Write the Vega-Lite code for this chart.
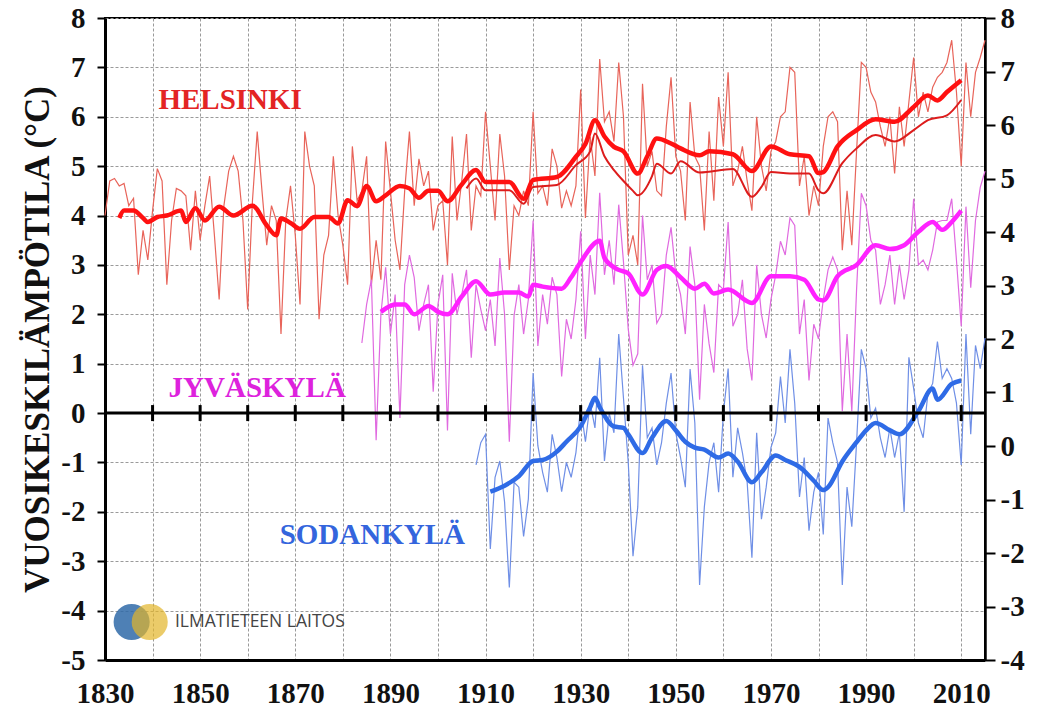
{
"$schema": "https://vega.github.io/schema/vega-lite/v6.json",
"width": 880, "height": 642,
"autosize": {"type": "none"},
"padding": {"left": 105, "top": 18, "right": 56, "bottom": 51},
"background": "white",
"config": {"view": {"stroke": "black", "strokeWidth": 2}, "font": "Liberation Serif"},
"datasets": {
"hel": [
{"year":1830,"t":4.0},{"year":1831,"t":4.7},{"year":1832,"t":4.75},{"year":1833,"t":4.6},{"year":1834,"t":4.65},{"year":1835,"t":4.2},{"year":1836,"t":4.35},{"year":1837,"t":2.8},{"year":1838,"t":3.7},{"year":1839,"t":3.1},
{"year":1840,"t":4.1},{"year":1841,"t":4.95},{"year":1842,"t":4.7},{"year":1843,"t":2.6},{"year":1844,"t":3.9},{"year":1845,"t":4.55},{"year":1846,"t":4.5},{"year":1847,"t":4.4},{"year":1848,"t":3.3},{"year":1849,"t":4.5},
{"year":1850,"t":3.5},{"year":1851,"t":4.2},{"year":1852,"t":4.8},{"year":1853,"t":3.6},{"year":1854,"t":2.3},{"year":1855,"t":4.2},{"year":1856,"t":4.9},{"year":1857,"t":5.2},{"year":1858,"t":4.9},{"year":1859,"t":3.9},
{"year":1860,"t":2.1},{"year":1861,"t":4.3},{"year":1862,"t":5.7},{"year":1863,"t":4.5},{"year":1864,"t":3.4},{"year":1865,"t":4.2},{"year":1866,"t":3.9},{"year":1867,"t":1.6},{"year":1868,"t":3.9},{"year":1869,"t":4.6},
{"year":1870,"t":3.6},{"year":1871,"t":2.2},{"year":1872,"t":5.7},{"year":1873,"t":5.0},{"year":1874,"t":4.6},{"year":1875,"t":1.9},{"year":1876,"t":3.2},{"year":1877,"t":3.6},{"year":1878,"t":5.2},{"year":1879,"t":4.0},
{"year":1880,"t":3.4},{"year":1881,"t":2.6},{"year":1882,"t":5.4},{"year":1883,"t":4.3},{"year":1884,"t":4.5},{"year":1885,"t":5.2},{"year":1886,"t":2.6},{"year":1887,"t":3.5},{"year":1888,"t":2.7},{"year":1889,"t":5.5},
{"year":1890,"t":4.5},{"year":1891,"t":3.5},{"year":1892,"t":2.9},{"year":1893,"t":4.5},{"year":1894,"t":5.7},{"year":1895,"t":4.2},{"year":1896,"t":5.15},{"year":1897,"t":4.6},{"year":1898,"t":4.9},{"year":1899,"t":3.7},
{"year":1900,"t":4.2},{"year":1901,"t":4.3},{"year":1902,"t":3.0},{"year":1903,"t":5.6},{"year":1904,"t":3.9},{"year":1905,"t":4.7},{"year":1906,"t":5.65},{"year":1907,"t":3.7},{"year":1908,"t":4.6},{"year":1909,"t":4.4},
{"year":1910,"t":6.1},{"year":1911,"t":5.0},{"year":1912,"t":3.9},{"year":1913,"t":5.65},{"year":1914,"t":4.8},{"year":1915,"t":2.9},{"year":1916,"t":4.2},{"year":1917,"t":4.0},{"year":1918,"t":4.5},{"year":1919,"t":4.2},
{"year":1920,"t":6.1},{"year":1921,"t":4.45},{"year":1922,"t":4.6},{"year":1923,"t":4.2},{"year":1924,"t":5.35},{"year":1925,"t":5.0},{"year":1926,"t":4.15},{"year":1927,"t":4.5},{"year":1928,"t":4.2},{"year":1929,"t":4.6},
{"year":1930,"t":6.55},{"year":1931,"t":3.95},{"year":1932,"t":5.6},{"year":1933,"t":4.8},{"year":1934,"t":7.17},{"year":1935,"t":5.9},{"year":1936,"t":6.1},{"year":1937,"t":5.5},{"year":1938,"t":7.1},{"year":1939,"t":6.0},
{"year":1940,"t":3.2},{"year":1941,"t":3.6},{"year":1942,"t":3.0},{"year":1943,"t":6.67},{"year":1944,"t":5.0},{"year":1945,"t":5.3},{"year":1946,"t":4.5},{"year":1947,"t":4.4},{"year":1948,"t":5.8},{"year":1949,"t":6.8},
{"year":1950,"t":5.2},{"year":1951,"t":4.9},{"year":1952,"t":3.9},{"year":1953,"t":6.3},{"year":1954,"t":5.2},{"year":1955,"t":5.0},{"year":1956,"t":3.7},{"year":1957,"t":5.7},{"year":1958,"t":4.3},{"year":1959,"t":6.4},
{"year":1960,"t":5.4},{"year":1961,"t":6.9},{"year":1962,"t":4.6},{"year":1963,"t":4.9},{"year":1964,"t":5.4},{"year":1965,"t":4.7},{"year":1966,"t":4.1},{"year":1967,"t":6.0},{"year":1968,"t":5.0},{"year":1969,"t":4.5},
{"year":1970,"t":5.3},{"year":1971,"t":5.5},{"year":1972,"t":6.0},{"year":1973,"t":6.1},{"year":1974,"t":7.0},{"year":1975,"t":6.9},{"year":1976,"t":4.6},{"year":1977,"t":5.2},{"year":1978,"t":4.0},{"year":1979,"t":4.6},
{"year":1980,"t":4.2},{"year":1981,"t":5.4},{"year":1982,"t":6.0},{"year":1983,"t":6.1},{"year":1984,"t":5.9},{"year":1985,"t":3.3},{"year":1986,"t":4.5},{"year":1987,"t":3.4},{"year":1988,"t":5.3},{"year":1989,"t":7.1},
{"year":1990,"t":7.0},{"year":1991,"t":6.5},{"year":1992,"t":6.3},{"year":1993,"t":5.8},{"year":1994,"t":5.4},{"year":1995,"t":6.0},{"year":1996,"t":4.85},{"year":1997,"t":6.2},{"year":1998,"t":5.4},{"year":1999,"t":6.3},
{"year":2000,"t":7.2},{"year":2001,"t":6.0},{"year":2002,"t":6.5},{"year":2003,"t":6.1},{"year":2004,"t":6.6},{"year":2005,"t":6.8},{"year":2006,"t":6.9},{"year":2007,"t":7.1},{"year":2008,"t":7.55},{"year":2009,"t":6.5},
{"year":2010,"t":5.0},{"year":2011,"t":7.1},{"year":2012,"t":6.0},{"year":2013,"t":6.9},{"year":2014,"t":7.2},{"year":2015,"t":7.55}
],
"jyv": [
{"year":1884,"t":1.42},{"year":1885,"t":2.2},{"year":1886,"t":2.7},{"year":1887,"t":-0.55},{"year":1888,"t":2.0},{"year":1889,"t":2.95},
{"year":1890,"t":1.6},{"year":1891,"t":2.4},{"year":1892,"t":-0.1},{"year":1893,"t":2.6},{"year":1894,"t":3.2},{"year":1895,"t":2.75},{"year":1896,"t":1.67},{"year":1897,"t":2.2},{"year":1898,"t":2.6},{"year":1899,"t":0.43},
{"year":1900,"t":2.2},{"year":1901,"t":2.8},{"year":1902,"t":-0.35},{"year":1903,"t":2.83},{"year":1904,"t":2.0},{"year":1905,"t":2.4},{"year":1906,"t":2.9},{"year":1907,"t":1.12},{"year":1908,"t":2.6},{"year":1909,"t":2.1},
{"year":1910,"t":1.67},{"year":1911,"t":2.3},{"year":1912,"t":1.36},{"year":1913,"t":3.14},{"year":1914,"t":2.0},{"year":1915,"t":-0.58},{"year":1916,"t":1.98},{"year":1917,"t":2.6},{"year":1918,"t":1.6},{"year":1919,"t":2.3},
{"year":1920,"t":3.9},{"year":1921,"t":1.36},{"year":1922,"t":2.4},{"year":1923,"t":1.8},{"year":1924,"t":2.75},{"year":1925,"t":2.4},{"year":1926,"t":0.74},{"year":1927,"t":1.9},{"year":1928,"t":1.5},{"year":1929,"t":2.3},
{"year":1930,"t":3.68},{"year":1931,"t":1.5},{"year":1932,"t":3.2},{"year":1933,"t":2.4},{"year":1934,"t":4.46},{"year":1935,"t":2.8},{"year":1936,"t":3.5},{"year":1937,"t":2.6},{"year":1938,"t":4.22},{"year":1939,"t":3.06},
{"year":1940,"t":1.7},{"year":1941,"t":0.97},{"year":1942,"t":1.2},{"year":1943,"t":4.0},{"year":1944,"t":2.7},{"year":1945,"t":3.0},{"year":1946,"t":1.82},{"year":1947,"t":2.0},{"year":1948,"t":3.2},{"year":1949,"t":3.76},
{"year":1950,"t":2.8},{"year":1951,"t":2.4},{"year":1952,"t":1.6},{"year":1953,"t":3.37},{"year":1954,"t":2.6},{"year":1955,"t":0.27},{"year":1956,"t":2.2},{"year":1957,"t":1.4},{"year":1958,"t":0.82},{"year":1959,"t":2.6},
{"year":1960,"t":2.5},{"year":1961,"t":3.87},{"year":1962,"t":1.76},{"year":1963,"t":2.0},{"year":1964,"t":2.7},{"year":1965,"t":1.3},{"year":1966,"t":0.66},{"year":1967,"t":3.0},{"year":1968,"t":2.0},{"year":1969,"t":1.52},
{"year":1970,"t":2.3},{"year":1971,"t":2.8},{"year":1972,"t":3.48},{"year":1973,"t":3.2},{"year":1974,"t":3.95},{"year":1975,"t":3.8},{"year":1976,"t":1.6},{"year":1977,"t":2.3},{"year":1978,"t":0.66},{"year":1979,"t":1.8},
{"year":1980,"t":1.5},{"year":1981,"t":2.3},{"year":1982,"t":2.9},{"year":1983,"t":3.16},{"year":1984,"t":2.9},{"year":1985,"t":0.04},{"year":1986,"t":1.6},{"year":1987,"t":0.04},{"year":1988,"t":2.5},{"year":1989,"t":4.45},
{"year":1990,"t":4.2},{"year":1991,"t":3.5},{"year":1992,"t":3.3},{"year":1993,"t":2.2},{"year":1994,"t":2.6},{"year":1995,"t":3.2},{"year":1996,"t":2.2},{"year":1997,"t":3.0},{"year":1998,"t":2.3},{"year":1999,"t":2.9},
{"year":2000,"t":4.34},{"year":2001,"t":3.0},{"year":2002,"t":3.1},{"year":2003,"t":2.9},{"year":2004,"t":3.3},{"year":2005,"t":3.87},{"year":2006,"t":3.9},{"year":2007,"t":3.9},{"year":2008,"t":4.34},{"year":2009,"t":3.1},
{"year":2010,"t":1.76},{"year":2011,"t":4.18},{"year":2012,"t":2.54},{"year":2013,"t":3.9},{"year":2014,"t":4.57},{"year":2015,"t":4.9}
],
"sod": [
{"year":1908,"t":-1.05},{"year":1909,"t":-0.6},
{"year":1910,"t":-0.43},{"year":1911,"t":-2.75},{"year":1912,"t":-1.3},{"year":1913,"t":-0.97},{"year":1914,"t":-1.8},{"year":1915,"t":-3.53},{"year":1916,"t":-1.4},{"year":1917,"t":-1.5},{"year":1918,"t":-2.5},{"year":1919,"t":-1.74},
{"year":1920,"t":0.81},{"year":1921,"t":-0.66},{"year":1922,"t":-1.2},{"year":1923,"t":-1.6},{"year":1924,"t":-0.43},{"year":1925,"t":-0.9},{"year":1926,"t":-1.59},{"year":1927,"t":-1.0},{"year":1928,"t":-1.3},{"year":1929,"t":-0.8},
{"year":1930,"t":0.12},{"year":1931,"t":-0.58},{"year":1932,"t":0.2},{"year":1933,"t":-0.3},{"year":1934,"t":1.12},{"year":1935,"t":-0.97},{"year":1936,"t":0.0},{"year":1937,"t":-0.4},{"year":1938,"t":1.6},{"year":1939,"t":0.3},
{"year":1940,"t":-1.0},{"year":1941,"t":-2.9},{"year":1942,"t":-1.9},{"year":1943,"t":0.97},{"year":1944,"t":-0.5},{"year":1945,"t":-0.3},{"year":1946,"t":-1.05},{"year":1947,"t":-0.6},{"year":1948,"t":0.2},{"year":1949,"t":0.81},
{"year":1950,"t":-0.4},{"year":1951,"t":-0.9},{"year":1952,"t":-1.5},{"year":1953,"t":0.89},{"year":1954,"t":-0.2},{"year":1955,"t":-3.48},{"year":1956,"t":-1.9},{"year":1957,"t":-1.0},{"year":1958,"t":-0.6},{"year":1959,"t":-1.6},
{"year":1960,"t":0.0},{"year":1961,"t":0.9},{"year":1962,"t":-1.3},{"year":1963,"t":-0.3},{"year":1964,"t":-0.8},{"year":1965,"t":-1.4},{"year":1966,"t":-2.93},{"year":1967,"t":-0.4},{"year":1968,"t":-2.15},{"year":1969,"t":-1.5},
{"year":1970,"t":-0.7},{"year":1971,"t":-0.4},{"year":1972,"t":0.74},{"year":1973,"t":-0.2},{"year":1974,"t":1.29},{"year":1975,"t":0.2},{"year":1976,"t":-1.7},{"year":1977,"t":-0.9},{"year":1978,"t":-2.38},{"year":1979,"t":-1.6},
{"year":1980,"t":-1.2},{"year":1981,"t":-2.46},{"year":1982,"t":-0.1},{"year":1983,"t":-0.6},{"year":1984,"t":-1.0},{"year":1985,"t":-3.48},{"year":1986,"t":-1.5},{"year":1987,"t":-2.3},{"year":1988,"t":-0.6},{"year":1989,"t":1.29},
{"year":1990,"t":0.9},{"year":1991,"t":-0.1},{"year":1992,"t":0.1},{"year":1993,"t":-0.5},{"year":1994,"t":-0.9},{"year":1995,"t":-0.3},{"year":1996,"t":-0.9},{"year":1997,"t":-0.4},{"year":1998,"t":-2.0},{"year":1999,"t":1.13},
{"year":2000,"t":0.5},{"year":2001,"t":-0.2},{"year":2002,"t":-0.5},{"year":2003,"t":0.4},{"year":2004,"t":0.6},{"year":2005,"t":1.45},{"year":2006,"t":0.7},{"year":2007,"t":0.9},{"year":2008,"t":0.7},{"year":2009,"t":0.2},
{"year":2010,"t":-1.05},{"year":2011,"t":1.6},{"year":2012,"t":-0.43},{"year":2013,"t":1.37},{"year":2014,"t":0.9},{"year":2015,"t":1.52}
],
"helS": [
{"year":1833,"t":3.95},{"year":1834,"t":4.1},{"year":1836,"t":4.1},{"year":1838,"t":3.95},{"year":1839,"t":3.87},{"year":1841,"t":3.97},{"year":1843,"t":4.0},{"year":1846,"t":4.1},{"year":1847,"t":3.87},{"year":1849,"t":4.15},
{"year":1851,"t":3.9},{"year":1854,"t":4.18},{"year":1857,"t":4.0},{"year":1861,"t":4.2},{"year":1864,"t":3.8},{"year":1866,"t":3.6},{"year":1867,"t":3.94},{"year":1869,"t":3.85},{"year":1871,"t":3.73},{"year":1874,"t":3.97},
{"year":1877,"t":3.97},{"year":1879,"t":3.84},{"year":1881,"t":4.31},{"year":1883,"t":4.19},{"year":1885,"t":4.6},{"year":1887,"t":4.29},{"year":1889,"t":4.41},{"year":1892,"t":4.6},{"year":1894,"t":4.55},{"year":1896,"t":4.36},
{"year":1898,"t":4.5},{"year":1900,"t":4.5},{"year":1902,"t":4.29},{"year":1905,"t":4.63},{"year":1908,"t":4.92},{"year":1910,"t":4.68},{"year":1915,"t":4.68},{"year":1918,"t":4.34},{"year":1920,"t":4.72},{"year":1925,"t":4.78},
{"year":1929,"t":5.19},{"year":1931,"t":5.45},{"year":1933,"t":5.93},{"year":1935,"t":5.6},{"year":1937,"t":5.39},{"year":1939,"t":5.3},{"year":1942,"t":4.85},{"year":1944,"t":5.2},{"year":1946,"t":5.56},{"year":1949,"t":5.46},
{"year":1951,"t":5.36},{"year":1955,"t":5.22},{"year":1957,"t":5.3},{"year":1962,"t":5.24},{"year":1966,"t":4.9},{"year":1970,"t":5.4},{"year":1974,"t":5.24},{"year":1978,"t":5.2},{"year":1980,"t":4.86},{"year":1981,"t":4.88},
{"year":1984,"t":5.4},{"year":1988,"t":5.73},{"year":1992,"t":5.95},{"year":1996,"t":5.9},{"year":2000,"t":6.2},{"year":2003,"t":6.43},{"year":2005,"t":6.33},{"year":2007,"t":6.5},{"year":2010,"t":6.74}
],
"helU": [
{"year":1906,"t":4.55},{"year":1908,"t":4.75},{"year":1910,"t":4.51},{"year":1915,"t":4.51},{"year":1918,"t":4.24},{"year":1920,"t":4.58},{"year":1925,"t":4.62},{"year":1929,"t":5.02},{"year":1932,"t":5.3},{"year":1933,"t":5.66},
{"year":1935,"t":5.2},{"year":1937,"t":4.92},{"year":1939,"t":4.7},{"year":1941,"t":4.5},{"year":1942,"t":4.41},{"year":1945,"t":4.8},{"year":1946,"t":5.05},{"year":1949,"t":4.85},{"year":1951,"t":5.1},{"year":1955,"t":4.87},
{"year":1962,"t":4.94},{"year":1966,"t":4.38},{"year":1968,"t":4.58},{"year":1970,"t":4.88},{"year":1974,"t":4.85},{"year":1978,"t":4.85},{"year":1980,"t":4.51},{"year":1981,"t":4.45},{"year":1985,"t":5.06},{"year":1988,"t":5.36},
{"year":1992,"t":5.63},{"year":1996,"t":5.5},{"year":2000,"t":5.73},{"year":2003,"t":5.93},{"year":2007,"t":6.03},{"year":2010,"t":6.34}
],
"jyvS": [
{"year":1888,"t":2.05},{"year":1890,"t":2.17},{"year":1891,"t":2.2},{"year":1893,"t":2.2},{"year":1895,"t":2.0},{"year":1898,"t":2.17},{"year":1900,"t":2.05},{"year":1902,"t":2.0},{"year":1905,"t":2.36},{"year":1908,"t":2.67},
{"year":1911,"t":2.4},{"year":1914,"t":2.44},{"year":1917,"t":2.44},{"year":1919,"t":2.36},{"year":1920,"t":2.6},{"year":1922,"t":2.56},{"year":1926,"t":2.52},{"year":1928,"t":2.75},{"year":1930,"t":3.06},{"year":1934,"t":3.49},
{"year":1935,"t":3.14},{"year":1938,"t":2.9},{"year":1940,"t":2.83},{"year":1943,"t":2.4},{"year":1946,"t":2.9},{"year":1948,"t":2.98},{"year":1951,"t":2.75},{"year":1954,"t":2.52},{"year":1956,"t":2.62},{"year":1958,"t":2.42},
{"year":1961,"t":2.5},{"year":1966,"t":2.23},{"year":1970,"t":2.77},{"year":1974,"t":2.77},{"year":1977,"t":2.7},{"year":1980,"t":2.3},{"year":1981,"t":2.28},{"year":1984,"t":2.77},{"year":1988,"t":3.0},{"year":1992,"t":3.4},
{"year":1995,"t":3.32},{"year":1998,"t":3.4},{"year":2001,"t":3.67},{"year":2004,"t":3.87},{"year":2006,"t":3.71},{"year":2008,"t":3.87},{"year":2010,"t":4.1}
],
"sodS": [
{"year":1911,"t":-1.59},{"year":1914,"t":-1.47},{"year":1917,"t":-1.28},{"year":1920,"t":-0.97},{"year":1922,"t":-0.95},{"year":1925,"t":-0.78},{"year":1927,"t":-0.58},{"year":1930,"t":-0.27},{"year":1932,"t":0.12},{"year":1933,"t":0.31},
{"year":1934,"t":0.12},{"year":1937,"t":-0.27},{"year":1939,"t":-0.3},{"year":1940,"t":-0.43},{"year":1943,"t":-0.81},{"year":1945,"t":-0.5},{"year":1948,"t":-0.16},{"year":1950,"t":-0.35},{"year":1952,"t":-0.58},{"year":1954,"t":-0.7},
{"year":1956,"t":-0.74},{"year":1959,"t":-0.9},{"year":1961,"t":-0.82},{"year":1963,"t":-0.98},{"year":1966,"t":-1.4},{"year":1968,"t":-1.2},{"year":1971,"t":-0.86},{"year":1973,"t":-0.95},{"year":1976,"t":-1.09},{"year":1979,"t":-1.37},
{"year":1981,"t":-1.56},{"year":1982,"t":-1.5},{"year":1985,"t":-0.98},{"year":1988,"t":-0.59},{"year":1990,"t":-0.35},{"year":1992,"t":-0.2},{"year":1995,"t":-0.35},{"year":1997,"t":-0.43},{"year":2001,"t":0.04},{"year":2004,"t":0.5},
{"year":2005,"t":0.27},{"year":2008,"t":0.59},{"year":2010,"t":0.66}
],
"zero": [
{"year":1830,"t":0},{"year":2015,"t":0}
],
"decades": [
{"year":1840,"t":0},{"year":1850,"t":0},{"year":1860,"t":0},{"year":1870,"t":0},{"year":1880,"t":0},{"year":1890,"t":0},{"year":1900,"t":0},{"year":1910,"t":0},{"year":1920,"t":0},
{"year":1930,"t":0},{"year":1940,"t":0},{"year":1950,"t":0},{"year":1960,"t":0},{"year":1970,"t":0},{"year":1980,"t":0},{"year":1990,"t":0},{"year":2000,"t":0},{"year":2010,"t":0}
],
"labels": [
{"year":1856.3,"t":6.34,"label":"HELSINKI"},
{"year":1862.0,"t":0.5,"label":"JYVÄSKYLÄ"},
{"year":1886.2,"t":-2.47,"label":"SODANKYLÄ"}
],
"logo": [
{"year":1835.6,"t":-4.23,"part":"blue"},
{"year":1839.4,"t":-4.23,"part":"yellow"}
],
"logoText": [
{"year":1844.7,"t":-4.23,"label":"ILMATIETEEN LAITOS"}
]
},
"layer": [
{
"encoding": {
"x": {"field": "year", "type": "quantitative",
"scale": {"domain": [1830, 2015], "nice": false, "zero": false},
"axis": {"title": null, "values": [1830,1840,1850,1860,1870,1880,1890,1900,1910,1920,1930,1940,1950,1960,1970,1980,1990,2000,2010],
"format": "d", "labelExpr": "datum.value % 20 == 10 ? datum.label : ''",
"labelFlush": false, "labelOverlap": false, "labelBound": false,
"ticks": false, "domain": true, "domainColor": "black", "domainWidth": 3,
"grid": true, "gridColor": "#9a9a9a", "gridDash": [3, 2], "gridWidth": 1,
"labelFont": "Liberation Serif", "labelFontWeight": "bold", "labelFontSize": 29, "labelColor": "#111", "labelPadding": 19}},
"y": {"field": "t", "type": "quantitative",
"scale": {"domain": [-5, 8], "nice": false, "zero": false},
"axis": {"title": "VUOSIKESKILÄMPÖTILA (°C)", "values": [-5,-4,-3,-2,-1,0,1,2,3,4,5,6,7,8],
"labelExpr": "datum.value < 0 ? '-' + abs(datum.value) : '' + datum.value",
"grid": true, "gridColor": "#9a9a9a", "gridDash": [3, 2], "gridWidth": 1,
"domain": true, "domainColor": "black", "domainWidth": 3,
"ticks": true, "tickColor": "black", "tickSize": 8, "tickWidth": 2,
"labelFont": "Liberation Serif", "labelFontWeight": "bold", "labelFontSize": 29, "labelColor": "#111", "labelPadding": 12,
"titleFont": "Liberation Serif", "titleFontWeight": "bold", "titleFontSize": 35, "titleColor": "#111", "titlePadding": 5}}
},
"layer": [
{"data": {"name": "hel"}, "mark": {"type": "line", "color": "#e8645a", "strokeWidth": 1.2}},
{"data": {"name": "jyv"}, "mark": {"type": "line", "color": "#e06ae0", "strokeWidth": 1.2}},
{"data": {"name": "sod"}, "mark": {"type": "line", "color": "#6f8fe6", "strokeWidth": 1.2}},
{"data": {"name": "helU"}, "mark": {"type": "line", "color": "#dd1c1c", "strokeWidth": 2, "interpolate": "monotone"}},
{"data": {"name": "helS"}, "mark": {"type": "line", "color": "#ff1111", "strokeWidth": 4.5, "interpolate": "monotone"}},
{"data": {"name": "jyvS"}, "mark": {"type": "line", "color": "#ff22ff", "strokeWidth": 4.5, "interpolate": "monotone"}},
{"data": {"name": "sodS"}, "mark": {"type": "line", "color": "#2f6be6", "strokeWidth": 4.5, "interpolate": "monotone"}},
{"data": {"name": "zero"}, "mark": {"type": "line", "color": "black", "strokeWidth": 3}},
{"data": {"name": "decades"}, "mark": {"type": "tick", "orient": "vertical", "color": "black", "size": 16, "thickness": 3, "opacity": 1}},
{"data": {"name": "labels"}, "mark": {"type": "text", "font": "Liberation Serif", "fontWeight": "bold", "fontSize": 29, "align": "center", "baseline": "middle"},
 "encoding": {"text": {"field": "label"}, "color": {"field": "label", "type": "nominal", "scale": {"domain": ["HELSINKI", "JYVÄSKYLÄ", "SODANKYLÄ"], "range": ["#e32424", "#dd22dd", "#3465dd"]}, "legend": null}}},
{"data": {"name": "logo"}, "transform": [{"filter": "datum.part == 'blue'"}], "mark": {"type": "point", "shape": "circle", "filled": true, "size": 1300, "opacity": 0.85, "color": "#2f6aa8"}},
{"data": {"name": "logo"}, "transform": [{"filter": "datum.part == 'yellow'"}], "mark": {"type": "point", "shape": "circle", "filled": true, "size": 1300, "opacity": 0.7, "color": "#e3b52a"}},
{"data": {"name": "logoText"}, "mark": {"type": "text", "font": "Open Sans", "fontSize": 17.5, "align": "left", "baseline": "middle", "color": "#444"},
 "encoding": {"text": {"field": "label"}}}
]
},
{
"data": {"values": [{}]},
"mark": {"type": "rule", "opacity": 0},
"encoding": {
"y": {"datum": 0, "type": "quantitative",
"scale": {"domain": [-4, 8], "nice": false, "zero": false},
"axis": {"orient": "right", "title": null, "values": [-4,-3,-2,-1,0,1,2,3,4,5,6,7,8],
"labelExpr": "datum.value < 0 ? '-' + abs(datum.value) : '' + datum.value",
"grid": false, "domain": true, "domainColor": "black", "domainWidth": 2.5,
"ticks": true, "tickColor": "black", "tickSize": 10, "tickWidth": 2,
"labelFont": "Liberation Serif", "labelFontWeight": "bold", "labelFontSize": 29, "labelColor": "#111", "labelPadding": 5}}
}
}
],
"resolve": {"scale": {"y": "independent"}, "axis": {"y": "independent"}}
}
